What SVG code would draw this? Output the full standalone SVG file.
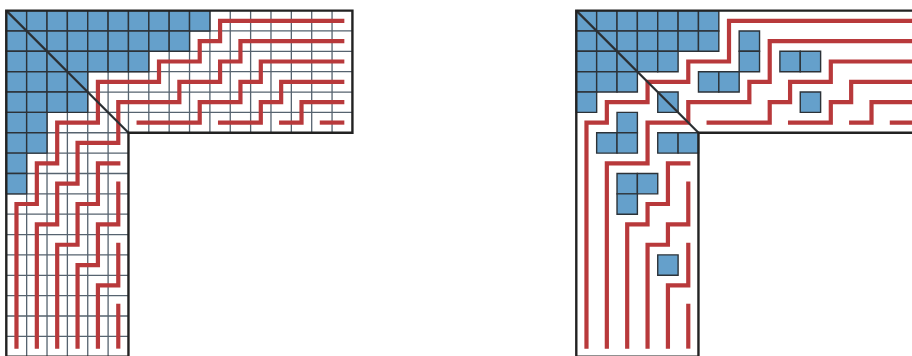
<svg xmlns="http://www.w3.org/2000/svg" width="912" height="356" viewBox="0 0 912 356">
<style>
.u *{vector-effect:non-scaling-stroke}
.gl{fill:none;stroke:#56636f;stroke-width:1.3}
.c{fill:#65a0cb;stroke:#2c3238;stroke-width:1.4}
.r{fill:none;stroke:#b8393b;stroke-width:4.2;stroke-linecap:square;stroke-linejoin:miter}
.dg{fill:none;stroke:#2b2f33;stroke-width:2.2}
.ol{fill:none;stroke:#222;stroke-width:2.4}
</style>
<rect width="912" height="356" fill="#fff"/>
<g id="left-grid" class="u" transform="translate(6.3,10.6) scale(20.36)">
  <path id="left-lines" class="gl" d="M1,0V17M2,0V17M3,0V17M4,0V17M5,0V17M6,0V6M7,0V6M8,0V6M9,0V6M10,0V6M11,0V6M12,0V6M13,0V6M14,0V6M15,0V6M16,0V6M0,1H17M0,2H17M0,3H17M0,4H17M0,5H17M0,6H6M0,7H6M0,8H6M0,9H6M0,10H6M0,11H6M0,12H6M0,13H6M0,14H6M0,15H6M0,16H6"/>
  <g id="left-cells">
    <rect class="c" x="0" y="0" width="1" height="1"/><rect class="c" x="1" y="0" width="1" height="1"/><rect class="c" x="2" y="0" width="1" height="1"/><rect class="c" x="3" y="0" width="1" height="1"/><rect class="c" x="4" y="0" width="1" height="1"/><rect class="c" x="5" y="0" width="1" height="1"/><rect class="c" x="6" y="0" width="1" height="1"/><rect class="c" x="7" y="0" width="1" height="1"/><rect class="c" x="8" y="0" width="1" height="1"/><rect class="c" x="9" y="0" width="1" height="1"/>
    <rect class="c" x="0" y="1" width="1" height="1"/><rect class="c" x="1" y="1" width="1" height="1"/><rect class="c" x="2" y="1" width="1" height="1"/><rect class="c" x="3" y="1" width="1" height="1"/><rect class="c" x="4" y="1" width="1" height="1"/><rect class="c" x="5" y="1" width="1" height="1"/><rect class="c" x="6" y="1" width="1" height="1"/><rect class="c" x="7" y="1" width="1" height="1"/><rect class="c" x="8" y="1" width="1" height="1"/>
    <rect class="c" x="0" y="2" width="1" height="1"/><rect class="c" x="1" y="2" width="1" height="1"/><rect class="c" x="2" y="2" width="1" height="1"/><rect class="c" x="3" y="2" width="1" height="1"/><rect class="c" x="4" y="2" width="1" height="1"/><rect class="c" x="5" y="2" width="1" height="1"/><rect class="c" x="6" y="2" width="1" height="1"/>
    <rect class="c" x="0" y="3" width="1" height="1"/><rect class="c" x="1" y="3" width="1" height="1"/><rect class="c" x="2" y="3" width="1" height="1"/><rect class="c" x="3" y="3" width="1" height="1"/>
    <rect class="c" x="0" y="4" width="1" height="1"/><rect class="c" x="1" y="4" width="1" height="1"/><rect class="c" x="2" y="4" width="1" height="1"/><rect class="c" x="3" y="4" width="1" height="1"/>
    <rect class="c" x="0" y="5" width="1" height="1"/><rect class="c" x="1" y="5" width="1" height="1"/>
    <rect class="c" x="0" y="6" width="1" height="1"/><rect class="c" x="1" y="6" width="1" height="1"/>
    <rect class="c" x="0" y="7" width="1" height="1"/>
    <rect class="c" x="0" y="8" width="1" height="1"/>
  </g>
  <g id="left-paths">
    <path class="r" d="M16.5,0.5H10.5V1.5H9.5V2.5H7.5V3.5H4.5V5.5H2.5V7.5H1.5V9.5H0.5V16.5"/>
    <path class="r" d="M16.5,1.5H11.5V2.5H10.5V3.5H8.5V4.5H5.5V6.5H3.5V8.5H2.5V10.5H1.5V16.5"/>
    <path class="r" d="M16.5,2.5H12.5V3.5H11.5V4.5H9.5V5.5H6.5"/>
    <path class="r" d="M5.5,7.5H4.5V9.5H3.5V11.5H2.5V16.5"/>
    <path class="r" d="M16.5,3.5H13.5V4.5H12.5V5.5H10.5"/>
    <path class="r" d="M5.5,8.5V10.5H4.5V12.5H3.5V16.5"/>
    <path class="r" d="M16.5,4.5H14.5V5.5H13.5"/>
    <path class="r" d="M5.5,11.5V13.5H4.5V16.5"/>
    <path class="r" d="M16.5,5.5H15.5"/>
    <path class="r" d="M5.5,14.5V16.5"/>
  </g>
  <path class="dg" d="M0,0L6,6"/>
  <path class="ol" d="M0,0H17V6H6V17H0Z"/>
</g>
<g id="right-grid" class="u" transform="translate(576.3,10.6) scale(20.36)">
  <g id="right-cells">
    <rect class="c" x="0" y="0" width="1" height="1"/><rect class="c" x="1" y="0" width="1" height="1"/><rect class="c" x="2" y="0" width="1" height="1"/><rect class="c" x="3" y="0" width="1" height="1"/><rect class="c" x="4" y="0" width="1" height="1"/><rect class="c" x="5" y="0" width="1" height="1"/><rect class="c" x="6" y="0" width="1" height="1"/>
    <rect class="c" x="0" y="1" width="1" height="1"/><rect class="c" x="1" y="1" width="1" height="1"/><rect class="c" x="2" y="1" width="1" height="1"/><rect class="c" x="3" y="1" width="1" height="1"/><rect class="c" x="4" y="1" width="1" height="1"/><rect class="c" x="5" y="1" width="1" height="1"/><rect class="c" x="6" y="1" width="1" height="1"/><rect class="c" x="8" y="1" width="1" height="1"/>
    <rect class="c" x="0" y="2" width="1" height="1"/><rect class="c" x="1" y="2" width="1" height="1"/><rect class="c" x="2" y="2" width="1" height="1"/><rect class="c" x="3" y="2" width="1" height="1"/><rect class="c" x="4" y="2" width="1" height="1"/><rect class="c" x="8" y="2" width="1" height="1"/><rect class="c" x="10" y="2" width="1" height="1"/><rect class="c" x="11" y="2" width="1" height="1"/>
    <rect class="c" x="0" y="3" width="1" height="1"/><rect class="c" x="1" y="3" width="1" height="1"/><rect class="c" x="2" y="3" width="1" height="1"/><rect class="c" x="6" y="3" width="1" height="1"/><rect class="c" x="7" y="3" width="1" height="1"/>
    <rect class="c" x="0" y="4" width="1" height="1"/><rect class="c" x="4" y="4" width="1" height="1"/><rect class="c" x="11" y="4" width="1" height="1"/>
    <rect class="c" x="2" y="5" width="1" height="1"/>
    <rect class="c" x="1" y="6" width="1" height="1"/><rect class="c" x="2" y="6" width="1" height="1"/><rect class="c" x="4" y="6" width="1" height="1"/><rect class="c" x="5" y="6" width="1" height="1"/>
    <rect class="c" x="2" y="8" width="1" height="1"/><rect class="c" x="3" y="8" width="1" height="1"/>
    <rect class="c" x="2" y="9" width="1" height="1"/>
    <rect class="c" x="4" y="12" width="1" height="1"/>
  </g>
  <g id="right-paths">
    <path class="r" d="M17,0.5H7.5V2.5H5.5V3.5H3.5V4.5H1.5V5.5H0.5V16.5"/>
    <path class="r" d="M17,1.5H9.5V3.5H8.5V4.5H5.5V5.5H3.5V7.5H1.5V16.5"/>
    <path class="r" d="M17,2.5H12.5V3.5H10.5V4.5H9.5V5.5H6.5"/>
    <path class="r" d="M5.5,7.5H4.5V9.5H3.5V10.5H2.5V16.5"/>
    <path class="r" d="M17,3.5H13.5V4.5H12.5V5.5H10.5"/>
    <path class="r" d="M5.5,8.5V10.5H4.5V11.5H3.5V16.5"/>
    <path class="r" d="M17,4.5H14.5V5.5H13.5"/>
    <path class="r" d="M5.5,11.5V13.5H4.5V16.5"/>
    <path class="r" d="M17,5.5H15.5"/>
    <path class="r" d="M5.5,14.5V16.5"/>
  </g>
  <path class="dg" d="M0,0L6,6"/>
  <path class="ol" d="M17.5,0H0V17H6V6H17.5"/>
</g>
</svg>
